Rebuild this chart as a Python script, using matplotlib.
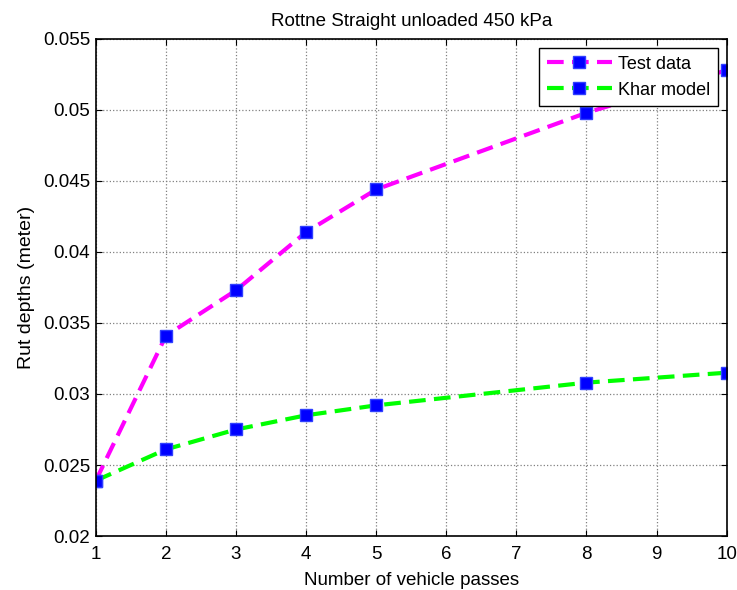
import numpy as np
import matplotlib
matplotlib.use("Agg")
import matplotlib.pyplot as plt

plt.rcParams['font.family'] = ['Liberation Sans', 'DejaVu Sans']

passes = [1, 2, 3, 4, 5, 8, 10]
test_data = [0.0239, 0.0341, 0.0373, 0.0414, 0.0444, 0.0498, 0.0528]
khar_model = [0.0239, 0.0261, 0.0275, 0.0285, 0.0292, 0.0308, 0.0315]
x_ticks = list(range(1, 11))
y_ticks = [0.02, 0.025, 0.03, 0.035, 0.04, 0.045, 0.05, 0.055]
y_labels = ['0.02', '0.025', '0.03', '0.035', '0.04', '0.045', '0.05', '0.055']

fig = plt.figure(figsize=(7.37, 5.9), dpi=100)
ax = fig.add_axes([0.130, 0.0915, 0.856, 0.8425])

ax.plot(passes, test_data, color='#ff00ff', lw=3, dashes=(4, 2),
        marker='s', ms=9, mfc='#0000ff', mec='#3040ff', label='Test data')
ax.plot(passes, khar_model, color='#00ff00', lw=3, dashes=(4, 2),
        marker='s', ms=9, mfc='#0000ff', mec='#3040ff', label='Khar model')

ax.set_xlim(1, 10)
ax.set_ylim(0.02, 0.055)
ax.set_xticks(x_ticks)
ax.set_yticks(y_ticks)
ax.set_yticklabels(y_labels)
ax.tick_params(direction='in', top=True, right=True, labelsize=13.5, length=4)
ax.tick_params(axis='x', pad=7)
ax.tick_params(axis='y', pad=4)
ax.grid(True, color='#808080', linestyle=':', linewidth=0.9)
for s in ax.spines.values():
    s.set_linewidth(1.2)
ax.set_axisbelow(True)

ax.set_title('Rottne Straight unloaded 450 kPa', fontsize=13.5, pad=9)
ax.set_xlabel('Number of vehicle passes', fontsize=13.5, labelpad=7)
ax.set_ylabel('Rut depths (meter)', fontsize=14, labelpad=6)

leg = ax.legend(loc='upper right', fontsize=13, fancybox=False, framealpha=1,
                edgecolor='black', handlelength=3.6, handletextpad=0.35,
                borderaxespad=0.5, borderpad=0.42, labelspacing=0.5)
leg.get_frame().set_linewidth(1.0)

fig.savefig('out.png', dpi=100)
